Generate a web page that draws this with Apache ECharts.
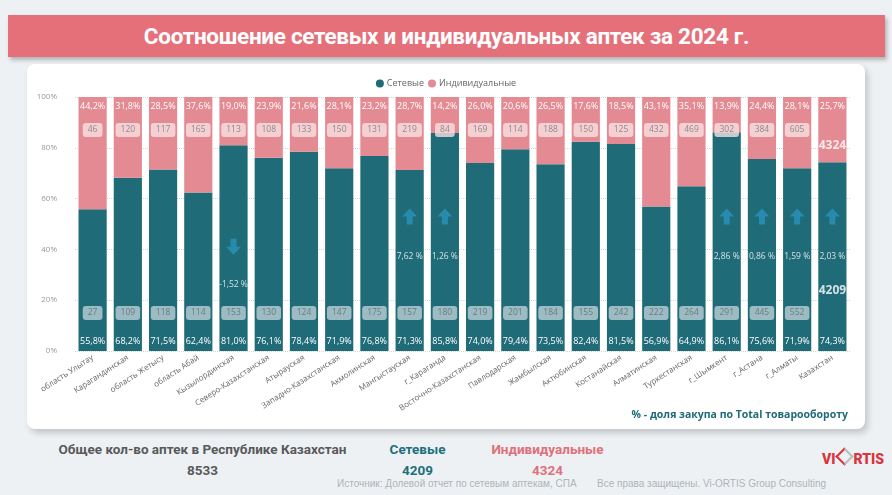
<!DOCTYPE html>
<html>
<head>
<meta charset="utf-8">
<script src="https://cdn.jsdelivr.net/npm/echarts@6.0.0/dist/echarts.min.js"></script>
<style>
  html, body { margin: 0; padding: 0; }
  body { width: 892px; height: 495px; background: #edf1f4; position: relative; overflow: hidden; font-family: "Open Sans", sans-serif; }
  #banner { position: absolute; left: 8px; top: 15px; width: 877px; height: 42px; background: #e5707a;
            box-shadow: 2px 3px 4px rgba(0,0,0,0.25); color: #fff; font-family: Roboto, sans-serif; font-weight: 700;
            font-size: 22.5px; line-height: 43px; text-align: center; letter-spacing: -0.3px; }
  #card { position: absolute; left: 27px; top: 64px; width: 838px; height: 365px; background: #fff; border-radius: 8px;
          box-shadow: 3px 4px 6px rgba(0,0,0,0.18); }
  #echar { position: absolute; left: 0; top: 0; width: 838px; height: 365px; }
  #note { position: absolute; right: 17px; top: 343px; font-size: 10.5px; font-weight: 700; color: #1f6b78; }
  .txt { position: absolute; font-family: Roboto, sans-serif; font-weight: 700; font-size: 13.5px; text-align: center; }
  .src { position: absolute; font-family: "Liberation Sans", Arial, sans-serif; font-size: 10px; color: #b0b4b8; top: 478px; }
  #logo { position: absolute; left: 822px; top: 450px; font-family: Roboto, sans-serif; font-weight: 900; font-size: 14px; color: #d8353d; }
  #logo .dia { display: inline-block; width: 9px; height: 9px; border: 2.5px solid #d8353d; border-top-color: #bbb; border-right-color: #bbb;
               transform: rotate(45deg); margin: 0 3px 0 2px; vertical-align: 1px; }
</style>
</head>
<body>
<div id="banner">Соотношение сетевых и индивидуальных аптек за 2024 г.</div>
<div id="card">
  <div id="echar"></div>
  <div id="note">% - доля закупа по Total товарообороту</div>
</div>
<div class="txt" style="left:55px; top:441px; width:295px; color:#58595b;">Общее кол-во аптек в Республике Казахстан</div>
<div class="txt" style="left:55px; top:462px; width:295px; color:#58595b;">8533</div>
<div class="txt" style="left:370px; top:441px; width:95px; color:#216f7c;">Сетевые</div>
<div class="txt" style="left:370px; top:462px; width:95px; color:#216f7c;">4209</div>
<div class="txt" style="left:480px; top:441px; width:135px; color:#e0707a;">Индивидуальные</div>
<div class="txt" style="left:480px; top:462px; width:135px; color:#e0707a;">4324</div>
<div class="src" style="left:337px;">Источник: Долевой отчет по сетевым аптекам, СПА</div>
<div class="src" style="left:597px;">Все права защищены. Vi-ORTIS Group Consulting</div>
<div id="logo">VI<span class="dia"></span>RTIS</div>
<script>
var regions = ['область Улытау', 'Карагандинская', 'область Жетысу', 'область Абай', 'Кызылординская',
    'Северо-Казахстанская', 'Атырауская', 'Западно-Казахстанская', 'Акмолинская', 'Мангыстауская',
    'г_Караганда', 'Восточно-Казахстанская', 'Павлодарская', 'Жамбылская', 'Актюбинская', 'Костанайская',
    'Алматинская', 'Туркестанская', 'г_Шымкент', 'г_Астана', 'г_Алматы', 'Казахстан'];
var chainShare = [55.8, 68.2, 71.5, 62.4, 81.0, 76.1, 78.4, 71.9, 76.8, 71.3, 85.8, 74.0, 79.4, 73.5, 82.4, 81.5, 56.9, 64.9, 86.1, 75.6, 71.9, 74.3];
var indivShare = [44.2, 31.8, 28.5, 37.6, 19.0, 23.9, 21.6, 28.1, 23.2, 28.7, 14.2, 26.0, 20.6, 26.5, 17.6, 18.5, 43.1, 35.1, 13.9, 24.4, 28.1, 25.7];
var chainCount = [27, 109, 118, 114, 153, 130, 124, 147, 175, 157, 180, 219, 201, 184, 155, 242, 222, 264, 291, 445, 552, 4209];
var indivCount = [46, 120, 117, 165, 113, 108, 133, 150, 131, 219, 84, 169, 114, 188, 150, 125, 432, 469, 302, 384, 605, 4324];
// изменение доли сетевых, %
var chainChange = [null, null, null, null, -1.52, null, null, null, null, 7.62, 1.26, null, null, null, null, null, null, null, 2.86, 0.86, 1.59, 2.03];
var yTicks = [0, 20, 40, 60, 80, 100];

var TEAL = '#1f6b78', PINK = '#e48a92', ARROW = '#2b93ba';
var totalIdx = regions.length - 1;

function fmt(v) { return v.toFixed(1).replace('.', ',') + '%'; }

var myChart = echarts.init(document.getElementById('echar'));

// итог по Казахстану - жирные белые подписи без плашки
var chainCountData = chainCount.map(function (c, i) {
    var item = { value: [i, 15], count: c };
    if (i === totalIdx) item.label = { backgroundColor: 'transparent', color: '#fff', fontWeight: 'bold', fontSize: 12, offset: [0, -22] };
    return item;
});
var indivCountData = indivCount.map(function (c, i) {
    var item = { value: [i, 87], count: c };
    if (i === totalIdx) item.label = { backgroundColor: 'transparent', color: '#fff', fontWeight: 'bold', fontSize: 12, offset: [0, 16] };
    return item;
});
var arrowData = [], arrowText = [];
chainChange.forEach(function (d, i) {
    if (d === null) return;
    arrowData.push({ value: [i, d < 0 ? 41 : 53], symbolRotate: d < 0 ? 180 : 0 });
    arrowText.push({ value: [i, d < 0 ? 26 : 37], change: d });
});

var countLabel = {
    show: true, position: 'inside', fontSize: 8.5, borderRadius: 3, padding: [3, 5, 2, 5],
    formatter: function (p) { return p.data.count; }
};

option = {
    textStyle: { fontFamily: 'Open Sans' },
    legend: {
        data: ['Сетевые', 'Индивидуальные'],
        top: 10, left: 'center', icon: 'circle', itemWidth: 8, itemHeight: 8, itemGap: 4,
        textStyle: { fontSize: 9, color: '#666', padding: [0, 0, 0, -2] }
    },
    grid: { left: 48, right: 15, top: 33, bottom: 78 },
    xAxis: {
        type: 'category',
        data: regions,
        axisLine: { show: false },
        axisTick: { show: false },
        axisLabel: { interval: 0, rotate: 33, fontSize: 8, color: '#666', margin: 6 }
    },
    yAxis: {
        type: 'value',
        min: 0, max: 100, interval: 20,
        axisLabel: { formatter: '{value}%', fontSize: 8, color: '#999', margin: 18 },
        splitLine: { lineStyle: { type: 'dotted', color: '#d6d6d6' } }
    },
    series: [{
        name: 'Сетевые',
        type: 'bar',
        stack: 'share',
        data: chainShare,
        barCategoryGap: '20%',
        itemStyle: { color: TEAL },
        label: { show: true, position: 'insideBottom', distance: 5, color: '#fff', fontSize: 9, formatter: function (p) { return fmt(p.value); } }
    }, {
        name: 'Индивидуальные',
        type: 'bar',
        stack: 'share',
        data: indivShare,
        itemStyle: { color: PINK },
        label: { show: true, position: 'insideTop', distance: 5, color: '#fff', fontSize: 9, formatter: function (p) { return fmt(p.value); } }
    }, {
        type: 'scatter',
        data: chainCountData,
        symbolSize: 1,
        itemStyle: { color: 'transparent' },
        label: echarts.util.extend({ backgroundColor: '#bccfd4', color: '#5d6d72' }, countLabel),
        z: 5
    }, {
        type: 'scatter',
        data: indivCountData,
        symbolSize: 1,
        itemStyle: { color: 'transparent' },
        label: echarts.util.extend({ backgroundColor: '#f8e1e3', color: '#777' }, countLabel),
        z: 5
    }, {
        type: 'scatter',
        data: arrowData,
        symbol: 'path://M5,0 L10,5.5 L7,5.5 L7,11 L3,11 L3,5.5 L0,5.5 Z',
        symbolSize: [15, 16],
        itemStyle: { color: ARROW },
        z: 6
    }, {
        type: 'scatter',
        data: arrowText,
        symbolSize: 1,
        itemStyle: { color: 'transparent' },
        label: {
            show: true, position: 'inside', color: '#fff', fontSize: 8.5,
            formatter: function (p) { return p.data.change.toFixed(2).replace('.', ',') + ' %'; }
        },
        z: 6
    }]
};

myChart.setOption(option);
</script>
</body>
</html>
